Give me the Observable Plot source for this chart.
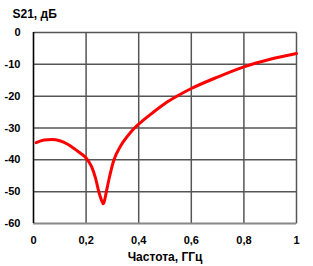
<!DOCTYPE html>
<html>
<head>
<meta charset="utf-8">
<script src="https://cdn.jsdelivr.net/npm/d3@7"></script>
<script src="https://cdn.jsdelivr.net/npm/@observablehq/plot@0.6"></script>
<style>
html,body{margin:0;padding:0;background:#fff;}
#chart{width:313px;height:266px;overflow:hidden;}
svg{font-family:"Liberation Sans",Arial,sans-serif;}
</style>
</head>
<body>
<div id="chart"></div>
<script>
const freq = [0.01,0.04,0.07,0.10,0.13,0.16,0.18,0.20,0.22,0.235,0.25,0.26,0.265,0.27,0.277,0.29,0.305,0.33,0.36,0.384,0.42,0.45,0.50,0.55,0.60,0.70,0.80,0.90,1.00];
const s21  = [-34.6,-33.8,-33.6,-34.0,-35.1,-36.8,-38.0,-39.4,-42.0,-45.5,-50.5,-53.0,-53.8,-52.8,-50.0,-45.0,-40.2,-35.8,-32.3,-30.0,-27.4,-25.4,-22.3,-19.8,-17.6,-14.0,-10.8,-8.4,-6.6];
const xTicks = [0,0.2,0.4,0.6,0.8,1];
const xTickLabels = ["0","0,2","0,4","0,6","0,8","1"];
const yTicks = [0,-10,-20,-30,-40,-50,-60];
const yTickLabels = ["0","-10","-20","-30","-40","-50","-60"];
const xLabel = "Частота, ГГц";
const yLabel = "S21, дБ";

const data = freq.map((f,i)=>({f, v:s21[i]}));
const fmtX = (d)=>xTickLabels[xTicks.indexOf(d)];
const fmtY = (d)=>yTickLabels[yTicks.indexOf(d)];
const vLines = xTicks.slice(1).map(t => ({x: t, y1: -60, y2: 0}));
const hLines = yTicks.slice(0, -1).map(t => ({y: t, x1: 0, x2: 1}));

const chart = Plot.plot({
  width: 313,
  height: 266,
  marginLeft: 33,
  marginRight: 17,
  marginTop: 32,
  marginBottom: 43,
  style: {fontFamily: "'Liberation Sans', Arial, sans-serif", fontSize: "11px", fontWeight: "bold", background: "#fff"},
  x: {domain: [0,1], label: null, axis: null},
  y: {domain: [-60,0], label: null, axis: null},
  marks: [
    Plot.link(vLines, {x1: "x", x2: "x", y1: "y1", y2: "y2", stroke: "rgb(85,85,85)", strokeWidth: 1.5}),
    Plot.link(hLines, {x1: "x1", x2: "x2", y1: "y", y2: "y", stroke: "rgb(85,85,85)", strokeWidth: 1.5}),
    Plot.ruleY([-60], {stroke: "#888", strokeWidth: 1.8}),
    Plot.ruleX([0], {stroke: "#000", strokeWidth: 1.6}),
    Plot.text(xTicks, {x: d=>d, text: fmtX, frameAnchor: "bottom", lineAnchor: "middle", dy: 17, fontSize: 11, fontWeight: "bold"}),
    Plot.text(yTicks, {y: d=>d, text: fmtY, frameAnchor: "left", textAnchor: "end", dx: -13, fontSize: 11, fontWeight: "bold"}),
    Plot.line(data, {x: "f", y: "v", stroke: "#ff0000", strokeWidth: 3, curve: "monotone-x"}),
    Plot.text([xLabel], {frameAnchor: "bottom", lineAnchor: "middle", dy: 34, fontSize: 12, fontWeight: "bold"}),
    Plot.text([yLabel], {frameAnchor: "top-left", lineAnchor: "middle", dx: -21, dy: -18, textAnchor: "start", fontSize: 12, fontWeight: "bold"})
  ]
});
document.getElementById("chart").appendChild(chart);
</script>
</body>
</html>
